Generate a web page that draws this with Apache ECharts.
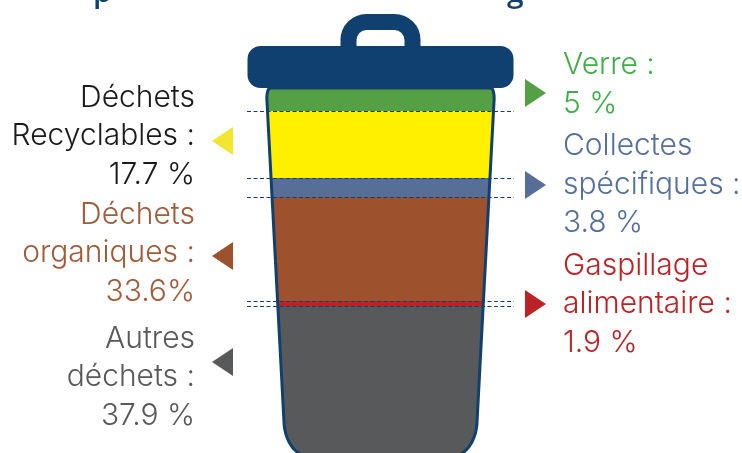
<!DOCTYPE html>
<html>
<head>
<meta charset="utf-8">
<style>
  html, body { margin: 0; padding: 0; background: #fff; }
  #chart { width: 742px; height: 453px; }
</style>
<script src="https://cdn.jsdelivr.net/npm/echarts@6/dist/echarts.min.js"></script>
</head>
<body>
<div id="chart"></div>
<script>
// contenu de la poubelle, du haut vers le bas
const categories = ['Verre', 'Déchets Recyclables', 'Collectes spécifiques', 'Déchets organiques', 'Gaspillage alimentaire', 'Autres déchets'];
const percentLabels = ['5 %', '17.7 %', '3.8 %', '33.6%', '1.9 %', '37.9 %'];
// hauteur de chaque couche telle que dessinée dans l'image (en % de la hauteur de la poubelle)
const drawnHeights = [6.25, 18.2, 5.16, 28.26, 1.36, 40.77];
const layerColors = ['#55a045', '#fff000', '#576f97', '#9d512c', '#bb2327', '#58595b'];
const textColors = ['#3fae49', '#1a1a1a', '#56709b', '#a05c3a', '#bb2327', '#58595b'];
const navy = '#10406f';

const CX = 380.5;
const BIN_TOP = 88, BIN_BOTTOM = 456;

function halfWidth(py) {
  let w = 113 - (py - 111) * 0.053;
  if (py > 423) {
    const t = Math.min(1, (py - 423) / (BIN_BOTTOM - 423));
    w -= 22 * (1 - Math.sqrt(1 - t * t));
  }
  if (py < 100) {
    const t = Math.min(1, (100 - py) / 12);
    w -= 4 * (1 - Math.sqrt(1 - t * t));
  }
  return w;
}

function binPolygon(top, bottom) {
  const left = [], right = [];
  for (let py = top; py < bottom; py += 1) {
    left.push([CX - halfWidth(py), py]);
    right.unshift([CX + halfWidth(py), py]);
  }
  left.push([CX - halfWidth(bottom), bottom]);
  right.unshift([CX + halfWidth(bottom), bottom]);
  return left.concat(right);
}

// niveaux cumulés, 100 = haut de la poubelle
let level = 100;
const layers = drawnHeights.map(function (h, i) {
  const row = [level, level - h, i];
  level -= h;
  return row;
});

let chart = echarts.init(document.getElementById('chart'));

function renderLayer(params, api) {
  const top = api.coord([0, api.value(0)])[1];
  const bottom = api.coord([0, api.value(1)])[1];
  return {
    type: 'polygon',
    shape: { points: binPolygon(top, bottom) },
    style: { fill: layerColors[api.value(2)] }
  };
}

function renderOutline(params, api) {
  const top = api.coord([0, 100])[1];
  const bottom = api.coord([0, 0])[1];
  return {
    type: 'polygon',
    shape: { points: binPolygon(top, bottom) },
    style: { fill: 'none', stroke: navy, lineWidth: 3 }
  };
}

function renderDash(params, api) {
  const py = Math.round(api.coord([0, api.value(0)])[1]) + 0.5;
  return {
    type: 'line',
    shape: { x1: 247, y1: py, x2: 514, y2: py },
    style: { stroke: navy, lineWidth: 1, lineDash: [4, 2.5] }
  };
}

// position des libellés : colonne, hauteur de la première ligne, flèche
const labelSlots = [
  { side: 'right', lines: ['Verre :', percentLabels[0]], y: 65, arrow: 93 },
  { side: 'left', lines: ['Déchets', 'Recyclables :', percentLabels[1]], y: 97.5, arrow: 141 },
  { side: 'right', lines: ['Collectes', 'spécifiques :', percentLabels[2]], y: 146, arrow: 185 },
  { side: 'left', lines: ['Déchets', 'organiques :', percentLabels[3]], y: 214.5, arrow: 256 },
  { side: 'right', lines: ['Gaspillage', 'alimentaire :', percentLabels[4]], y: 265.5, arrow: 304 },
  { side: 'left', lines: ['Autres', 'déchets :', percentLabels[5]], y: 338.5, arrow: 362 }
];

const graphics = [
  // couvercle
  { type: 'rect', shape: { x: 348.5, y: 22, width: 64, height: 40, r: [18, 18, 0, 0] }, style: { fill: 'none', stroke: navy, lineWidth: 16 } },
  { type: 'rect', shape: { x: 247.5, y: 46, width: 266, height: 42, r: 13 }, style: { fill: navy } },
  // haut du titre, coupé par le cadre
  { type: 'text', style: { text: 'p', x: 93, y: -22, font: '600 30px "Open Sans"', fill: navy } },
  { type: 'text', style: { text: 'g', x: 507, y: -22, font: '600 30px "Open Sans"', fill: navy } }
];

labelSlots.forEach(function (slot, i) {
  const isLeft = slot.side === 'left';
  slot.lines.forEach(function (line, k) {
    graphics.push({
      type: 'text',
      style: {
        text: line,
        x: isLeft ? 195 : 563,
        y: slot.y + k * 38.5,
        align: isLeft ? 'right' : 'left',
        verticalAlign: 'middle',
        font: '300 30px Inter',
        fill: textColors[i]
      }
    });
  });
  const a = slot.arrow;
  graphics.push({
    type: 'polygon',
    shape: { points: isLeft ? [[212, a], [233, a - 14], [233, a + 14]] : [[525, a - 14], [546, a], [525, a + 14]] },
    style: { fill: i === 1 ? '#f3e62f' : layerColors[i] }
  });
});

let option = {
  animation: false,
  // la poubelle dépasse du cadre en bas : l'axe s'arrête au bord de l'image
  grid: { left: 0, right: 0, top: BIN_TOP, bottom: 0 },
  xAxis: { type: 'value', min: 0, max: 1, show: false },
  yAxis: { type: 'value', min: 100 * (BIN_BOTTOM - 453) / (BIN_BOTTOM - BIN_TOP), max: 100, show: false },
  graphic: { elements: graphics },
  series: [
    { type: 'custom', name: 'couches', silent: true, clip: false, renderItem: renderLayer, data: layers, z: 1 },
    { type: 'custom', name: 'contour', silent: true, clip: false, renderItem: renderOutline, data: [[100]], z: 2 },
    { type: 'custom', name: 'seuils', silent: true, clip: false, renderItem: renderDash, data: layers.slice(1).map(function (l) { return [l[0]]; }), z: 3 }
  ]
};
chart.setOption(option);
</script>
</body>
</html>
